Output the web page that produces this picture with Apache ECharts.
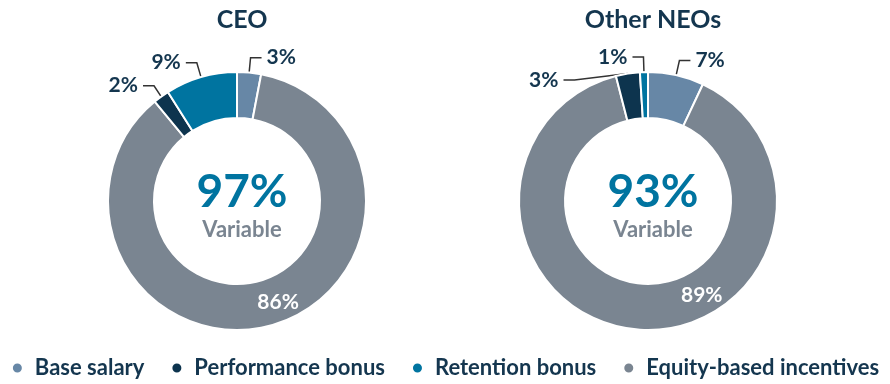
<!DOCTYPE html>
<html><head><meta charset="utf-8">
<script src="https://cdn.jsdelivr.net/npm/echarts@6/dist/echarts.min.js"></script>
<style>html,body{margin:0;padding:0;background:#fff}#c{width:890px;height:384px}</style>
</head><body><div id="c"></div>
<script>
// Data
const categories = ['Base salary', 'Equity-based incentives', 'Performance bonus', 'Retention bonus'];
const legendOrder = ['Base salary', 'Performance bonus', 'Retention bonus', 'Equity-based incentives'];
const ceoValues = [3, 86, 2, 9];
const neoValues = [7, 89, 3, 1];
const chartTitles = ['CEO', 'Other NEOs'];
const variableValues = ['97%', '93%'];

const colors = {
  'Base salary': '#6787a6',
  'Performance bonus': '#0d344e',
  'Retention bonus': '#0074a0',
  'Equity-based incentives': '#7a8591'
};
const FONT = 'Lato, "Open Sans", sans-serif';
const DARK = '#14364f';

function buildData(vals, eqOffset) {
  return categories.map((c, i) => {
    const d = { name: c, value: vals[i], itemStyle: { color: colors[c] } };
    if (c === 'Equity-based incentives') {
      d.label = { position: 'inside', color: '#fff', fontWeight: 'bold', offset: eqOffset };
      d.labelLine = { show: false };
    }
    return d;
  });
}

const centers = [[237, 201], [648, 201]];
const eqOffsets = [[14, -4], [64, -14]];
const series = [ceoValues, neoValues].map((vals, k) => ({
  type: 'pie',
  center: centers[k],
  radius: [83, 129],
  startAngle: 90,
  clockwise: true,
  avoidLabelOverlap: true,
  itemStyle: { borderColor: '#fff', borderWidth: 2 },
  label: {
    show: true,
    formatter: '{c}%',
    fontFamily: FONT,
    fontSize: 21,
    fontWeight: 'bold',
    color: DARK
  },
  labelLine: { show: true, length: 15, length2: 11, lineStyle: { color: '#333', width: 1.5 } },
  emphasis: { disabled: true },
  data: buildData(vals, eqOffsets[k])
}));

const titles = [];
chartTitles.forEach((t, k) => {
  titles.push({ text: t, left: centers[k][0], top: 2, textAlign: 'center',
    textStyle: { fontFamily: FONT, fontSize: 25, fontWeight: 'bold', color: DARK } });
  titles.push({ text: variableValues[k], left: centers[k][0], top: 164, textAlign: 'center',
    textStyle: { fontFamily: FONT, fontSize: 46, fontWeight: 'bold', color: '#0074a0' } });
  titles.push({ text: 'Variable', left: centers[k][0], top: 214, textAlign: 'center',
    textStyle: { fontFamily: FONT, fontSize: 22, fontWeight: 'bold', color: '#7a8591' } });
});

const chart = echarts.init(document.getElementById('c'));
chart.setOption({
  animation: false,
  title: titles,
  legend: {
    data: legendOrder,
    left: 'center',
    top: 352,
    icon: 'circle',
    itemWidth: 11,
    itemHeight: 11,
    itemGap: 26,
    textStyle: { fontFamily: FONT, fontSize: 22, fontWeight: 'bold', color: DARK, padding: [0, 0, 0, 7] },
    selectedMode: false
  },
  series: series
});
</script></body></html>
